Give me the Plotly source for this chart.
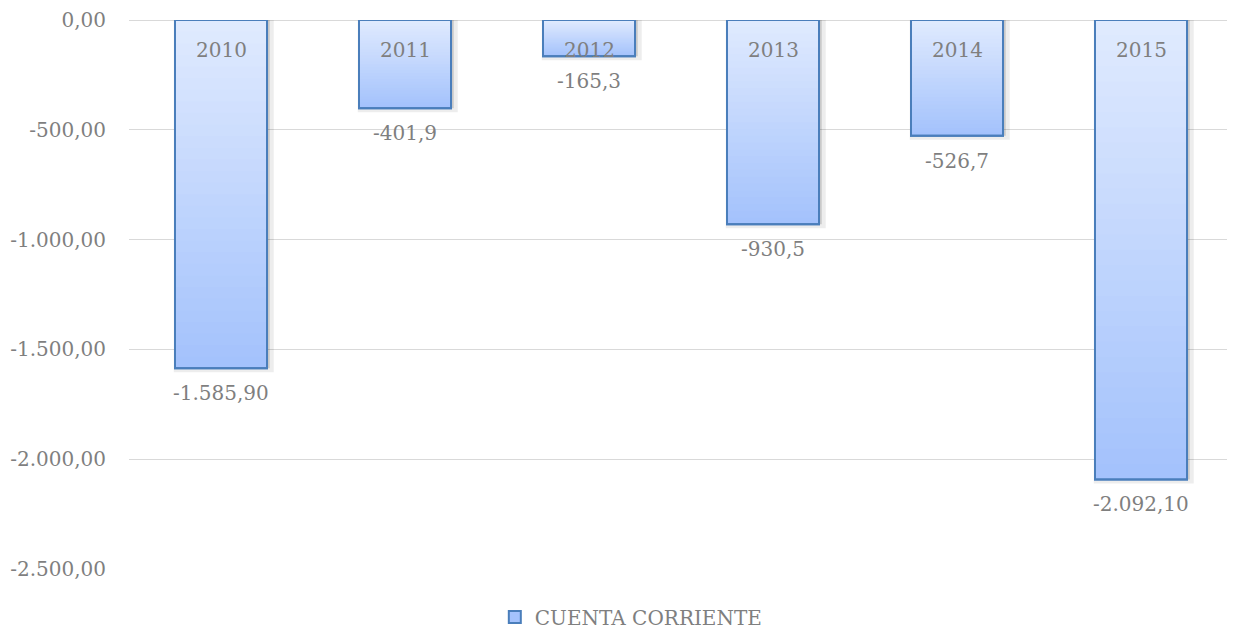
import plotly.graph_objects as go

years = ["2010", "2011", "2012", "2013", "2014", "2015"]
values = [-1585.9, -401.9, -165.3, -930.5, -526.7, -2092.1]
value_labels = ["-1.585,90", "-401,9", "-165,3", "-930,5", "-526,7", "-2.092,10"]
tick_vals = [0, -500, -1000, -1500, -2000, -2500]
tick_text = ["0,00", "-500,00", "-1.000,00", "-1.500,00", "-2.000,00", "-2.500,00"]

FONT = "DejaVu Serif"
SIZE = 20
GREY = "#7f7f7f"
BORDER = "#4a7ebb"
TOP = (223, 234, 254)
BOTTOM = (164, 194, 252)
STEPS = 30

fig = go.Figure()

# soft shadow behind the bars
fig.add_trace(
    go.Bar(
        x=years,
        y=values,
        width=0.5,
        offset=-0.235,
        marker=dict(color="rgba(0,0,0,0.15)", line=dict(color="rgba(0,0,0,0.07)", width=8)),
        showlegend=False,
        hoverinfo="skip",
    )
)

# base bar (legend entry), darkest colour
fig.add_trace(
    go.Bar(
        x=years,
        y=values,
        width=0.5,
        name="CUENTA CORRIENTE",
        marker=dict(color="rgb(%d,%d,%d)" % BOTTOM, line=dict(color=BORDER, width=2)),
        hovertemplate="%{x}: %{y}<extra></extra>",
    )
)

# vertical gradient: shorter and lighter layers stacked over the base bar
for k in range(1, STEPS):
    frac = 1 - k / STEPS
    t = k / (STEPS - 1)
    col = tuple(round(BOTTOM[i] + (TOP[i] - BOTTOM[i]) * t) for i in range(3))
    fig.add_trace(
        go.Bar(
            x=years,
            y=[v * frac for v in values],
            width=0.5,
            marker=dict(color="rgb(%d,%d,%d)" % col, line=dict(width=0)),
            showlegend=False,
            hoverinfo="skip",
        )
    )

# outline on top
fig.add_trace(
    go.Bar(
        x=years,
        y=values,
        width=0.5,
        marker=dict(color="rgba(0,0,0,0)", line=dict(color=BORDER, width=2)),
        showlegend=False,
        hoverinfo="skip",
    )
)

# labels: year inside the top of each bar, value under its end
for i, (yr, v, lab) in enumerate(zip(years, values, value_labels)):
    fig.add_annotation(
        x=i, y=0, text=yr, showarrow=False, yanchor="middle", yshift=-30,
        font=dict(family=FONT, size=SIZE, color=GREY),
    )
    fig.add_annotation(
        x=i, y=v, text=lab, showarrow=False, yanchor="middle", yshift=-25,
        font=dict(family=FONT, size=SIZE, color=GREY),
    )

# page body has an 8px margin, so the figure is 8px smaller than the window
fig.update_layout(
    width=1227,
    height=622,
    barmode="overlay",
    plot_bgcolor="white",
    paper_bgcolor="white",
    margin=dict(l=121, r=2, t=12, b=61, autoexpand=False),
    font=dict(family=FONT, size=SIZE, color=GREY),
    legend=dict(
        orientation="h",
        xref="container",
        yref="container",
        x=0.508,
        xanchor="center",
        y=0.021,
        yanchor="middle",
        font=dict(family=FONT, size=SIZE, color=GREY),
        itemwidth=30,
    ),
    xaxis=dict(
        type="category",
        range=[-0.5, 5.5],
        showticklabels=False,
        showgrid=False,
        zeroline=False,
        showline=False,
    ),
    yaxis=dict(
        range=[-2500, 0],
        tickvals=tick_vals,
        ticktext=tick_text,
        gridcolor="#d9d9d9",
        gridwidth=1,
        zeroline=True,
        zerolinecolor="#d9d9d9",
        zerolinewidth=1,
        showline=False,
        automargin=False,
        ticklabelstandoff=22,
        tickfont=dict(family=FONT, size=SIZE, color=GREY),
    ),
)

fig.write_html("out.html")
